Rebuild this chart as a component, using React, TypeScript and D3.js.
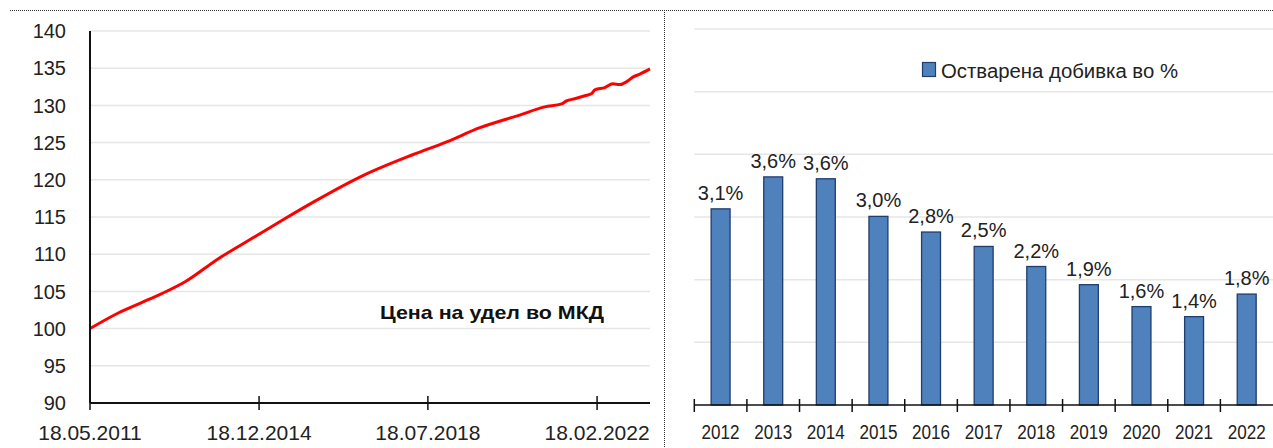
import React from "react";
import * as d3 from "d3";

// ---------- Left chart data (price per unit, MKD) ----------
const lineDates: string[] = [
  "2011-05-18", "2011-12-23", "2012-06-08", "2012-11-24", "2013-05-24",
  "2014-02-06", "2014-10-22", "2015-07-08", "2016-02-11", "2017-03-06",
  "2018-03-27", "2018-12-11", "2019-08-25", "2020-06-28", "2021-01-08",
  "2021-05-20", "2021-06-26", "2021-08-29", "2021-11-15", "2022-01-08",
  "2022-02-01", "2022-04-19", "2022-06-20", "2022-08-13", "2022-10-06",
  "2022-11-22", "2023-01-15", "2023-04-04",
];
const lineValues: number[] = [
  100.0, 102.1, 103.4, 104.7, 106.3,
  109.4, 112.1, 114.8, 117.0, 120.6,
  123.4, 125.1, 127.0, 128.7, 129.8,
  130.2, 130.6, 130.9, 131.3, 131.6,
  132.1, 132.4, 132.9, 132.8, 133.2,
  133.8, 134.2, 134.9,
];
const leftYTicks: number[] = [90, 95, 100, 105, 110, 115, 120, 125, 130, 135, 140];
const leftXTicks: string[] = ["2011-05-18", "2014-12-18", "2018-07-18", "2022-02-18"];
const leftDomainEnd = "2023-04-04";
const leftLabel = "Цена на удел во МКД";

// ---------- Right chart data (realized return, %) ----------
const years: string[] = ["2012", "2013", "2014", "2015", "2016", "2017", "2018", "2019", "2020", "2021", "2022"];
const returns: number[] = [3.13, 3.64, 3.61, 3.01, 2.76, 2.53, 2.21, 1.92, 1.57, 1.41, 1.77];
const rightYTicks: number[] = [0, 1, 2, 3, 4, 5, 6];
const legendLabel = "Остварена добивка во %";

const FONT = "'Liberation Sans', Arial, Helvetica, sans-serif";
const TEXT = "#222";
const GRID = "#e6e6e6";

export default function App() {
  const parse = d3.timeParse("%Y-%m-%d");
  const fmtTick = d3.timeFormat("%d.%m.%Y");

  // Left chart scales
  const lx = d3
    .scaleTime()
    .domain([parse(lineDates[0])!, parse(leftDomainEnd)!])
    .range([90, 650]);
  const ly = d3.scaleLinear().domain([90, 140]).range([403, 31]);
  const pts = lineDates.map((d, i) => ({ d: parse(d)!, v: lineValues[i] }));
  const linePath =
    d3
      .line<{ d: Date; v: number }>()
      .x((p) => lx(p.d))
      .y((p) => ly(p.v))
      .curve(d3.curveMonotoneX)(pts) || "";

  // Right chart scales
  const rx = d3.scaleBand<string>().domain(years).range([694.3, 1273]).paddingInner(0.64).paddingOuter(0.32);
  const ry = d3.scaleLinear().domain([0, 6]).range([405, 29]);
  const fmtPct = (v: number) => d3.format(".1f")(v).replace(".", ",") + "%";
  const step = rx.step();
  const catEdges = years.map((_, i) => 694.3 + i * step);

  return (
    <svg
      width={1273}
      height={448}
      style={{ position: "absolute", left: 0, top: 0, background: "#fff" }}
      fontFamily={FONT}
    >
      {/* frame dotted lines */}
      <line x1={10} x2={1273} y1={10.5} y2={10.5} stroke="#333" strokeWidth={1} strokeDasharray="1,1" />
      <line x1={664.5} x2={664.5} y1={10} y2={448} stroke="#333" strokeWidth={1} strokeDasharray="1,1" />

      {/* ----- Left chart ----- */}
      {leftYTicks.map((t) => (
        <g key={"lg" + t}>
          {t !== 90 && (
            <line x1={90} x2={650} y1={ly(t)} y2={ly(t)} stroke={GRID} strokeWidth={1.5} />
          )}
          <text x={66} y={ly(t)} dy="0.36em" textAnchor="end" fontSize={20} fill={TEXT}>
            {t}
          </text>
        </g>
      ))}
      <path d={linePath} fill="none" stroke="#ff0000" strokeWidth={3} strokeLinejoin="round" />
      <line x1={90} x2={90} y1={31} y2={403} stroke="#111" strokeWidth={2} />
      <line x1={90} x2={650} y1={403} y2={403} stroke="#111" strokeWidth={2} />
      {leftXTicks.map((t, i) => {
        const x = lx(parse(t)!);
        return (
          <g key={"lx" + t}>
            <line x1={x} x2={x} y1={i === 0 ? 403 : 396} y2={410} stroke="#111" strokeWidth={1.5} />
            <text x={x} y={440} textAnchor="middle" fontSize={21} fill={TEXT}>
              {fmtTick(parse(t)!)}
            </text>
          </g>
        );
      })}
      <text
        x={380}
        y={319}
        fontSize={19}
        fontWeight="bold"
        fill="#111"
        textLength={224}
        lengthAdjust="spacingAndGlyphs"
      >
        {leftLabel}
      </text>

      {/* ----- Right chart ----- */}
      {rightYTicks.map((t) =>
        t === 0 ? null : (
          <line key={"rg" + t} x1={694.3} x2={1273} y1={ry(t)} y2={ry(t)} stroke={GRID} strokeWidth={1.5} />
        )
      )}
      {/* legend */}
      <rect x={922.5} y={62.5} width={13} height={14} fill="#4f81bd" stroke="#1f3d6e" strokeWidth={1.2} />
      <text x={941} y={78} fontSize={20} fill={TEXT} textLength={237} lengthAdjust="spacingAndGlyphs">
        {legendLabel}
      </text>
      {years.map((y, i) => {
        const x = rx(y)!;
        const w = rx.bandwidth();
        const top = ry(returns[i]);
        return (
          <g key={"b" + y}>
            <rect x={x} y={top} width={w} height={ry(0) - top} fill="#4f81bd" stroke="#1f3d6e" strokeWidth={1.3} />
            <text x={x + w / 2} y={top - 9} textAnchor="middle" fontSize={20} fill={TEXT}>
              {fmtPct(returns[i])}
            </text>
            <text
              x={x + w / 2}
              y={438.5}
              textAnchor="middle"
              fontSize={19.5}
              fill={TEXT}
              textLength={38}
              lengthAdjust="spacingAndGlyphs"
            >
              {y}
            </text>
          </g>
        );
      })}
      <line x1={694.3} x2={1273} y1={405} y2={405} stroke="#111" strokeWidth={1.5} />
      {catEdges.map((x, i) => (
        <line key={"rt" + i} x1={x} x2={x} y1={399} y2={412} stroke="#111" strokeWidth={1.5} />
      ))}
    </svg>
  );
}
